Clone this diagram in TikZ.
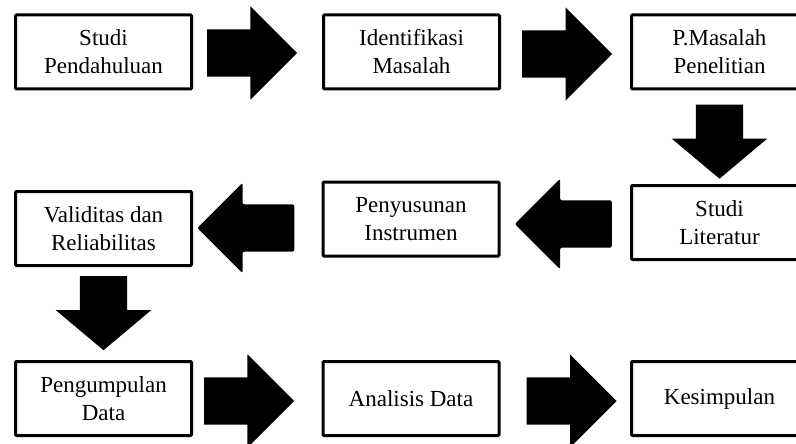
\documentclass[tikz,border=0pt]{standalone}
\usepackage{fontspec}
\setmainfont{Liberation Serif}
\usetikzlibrary{shapes.arrows, calc}
\tikzset{
  stage/.style    = {draw, line width=3pt, rounded corners=1pt, align=center,
                     minimum width=176pt, minimum height=74pt, inner sep=2pt,
                     font=\fontsize{23}{28}\selectfont},
  bigarrow/.style = {single arrow, fill=black, draw=none, inner xsep=0pt,
                     inner ysep=23.5pt, minimum height=90pt,
                     single arrow head extend=23pt, single arrow tip angle=90},
  backarrow/.style = {bigarrow, shape border rotate=180, rounded corners=2pt,
                     minimum height=97pt, single arrow head extend=21.5pt},
  droparrow/.style = {bigarrow, rotate=-90, minimum height=74pt,
                     single arrow head extend=24pt, single arrow tip angle=100}
}

\begin{document}
\begin{tikzpicture}[x=1pt, y=-1pt]
\path[use as bounding box] (0,0) rectangle (796,444);
\clip (0,0) rectangle (796,444);

% ---- Stages ----
\foreach \cx/\cy/\name/\txt in {%
  103.5/52/studi/{Studi\\Pendahuluan},
  411.5/52/ident/{Identifikasi\\Masalah},
  719.5/52/rumusan/{P.Masalah\\Penelitian},
  719.5/222.5/literatur/{Studi\\Literatur},
  411/219/instrumen/{Penyusunan\\Instrumen},
  103.5/228.5/validitas/{Validitas dan\\Reliabilitas},
  103.5/398.5/kumpul/{Pengumpulan\\Data},
  411/398.5/analisis/{Analisis Data},
  719.5/398.5/simpul/{Kesimpulan}} {
  \node[stage] (\name) at (\cx,\cy) {\txt};
}

% ---- Block arrows between stages (tail set off from the source box) ----
\foreach \a/\b/\gap/\dy in {studi/ident/14/1, ident/rumusan/21/2,
                            kumpul/analisis/11/2.5, analisis/simpul/26/2.5} {
  \node[bigarrow, anchor=tail] (\a-\b) at ($(\a.east)+(\gap,\dy)$) {};
}
\foreach \a/\b/\gap/\dy in {literatur/instrumen/18/1.5, instrumen/validitas/27/9} {
  \node[backarrow, anchor=tail] (\a-\b) at ($(\a.west)+(-\gap,\dy)$) {};
}
\foreach \a/\b/\gap in {rumusan/literatur/14, validitas/kumpul/9} {
  \node[droparrow, anchor=tail] (\a-\b) at ($(\a.south)+(0,\gap)$) {};
}
\end{tikzpicture}
\end{document}
